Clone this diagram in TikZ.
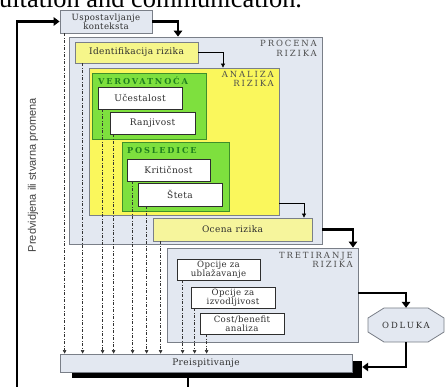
\documentclass[tikz,border=0pt]{standalone}
\usepackage{fontspec}
\usetikzlibrary{arrows.meta,calc}
\newfontfamily\lblf[LetterSpace=4]{DejaVu Serif}
\newfontfamily\ttlf[LetterSpace=22]{DejaVu Serif}
\newfontfamily\topf{Liberation Serif}
\newfontfamily\sidef{Liberation Sans}
\definecolor{bluebg}{HTML}{E3E8F1}
\definecolor{bluebd}{HTML}{7A7F88}
\definecolor{yelA}{HTML}{F6F68A}
\definecolor{yelB}{HTML}{FAF75C}
\definecolor{yelC}{HTML}{F6F59C}
\definecolor{grn}{HTML}{7EE03E}
\definecolor{grnbd}{HTML}{3F8F2A}
\definecolor{grntxt}{HTML}{1E7F1E}
\definecolor{txt}{HTML}{2E2E2E}
\tikzset{
  box/.style={draw, rectangle, inner sep=0pt, align=center, text=txt, font=\lblf\fontsize{9}{10}\selectfont},
  twoline/.style={font=\lblf\fontsize{8.6}{9.2}\selectfont},
  bluebox/.style={box, fill=bluebg, draw=bluebd, line width=0.8pt},
  whitebox/.style={box, fill=white, draw=txt, line width=0.8pt},
  ttl/.style={inner sep=0pt, text=txt!85, font=\ttlf\fontsize{8.5}{9.5}\selectfont, align=right},
  gttl/.style={inner sep=0pt, text=grntxt, font=\ttlf\bfseries\fontsize{8.2}{9}\selectfont},
  bigline/.style={line width=2.2pt, draw=black},
  bigarr/.style={bigline, -{Triangle[length=6pt,width=8.5pt]}},
  thinarr/.style={line width=0.7pt, draw=black, -{Triangle[length=4pt,width=4pt]}},
  da/.style={line width=0.6pt, draw=black!80, dash pattern=on 3pt off 1.5pt on 1pt off 1.5pt, -{Triangle[length=3.5pt,width=3.5pt]}}
}
\begin{document}
\begin{tikzpicture}[x=1pt,y=-1pt]
\useasboundingbox (0,0) rectangle (447,387);
% top cut text
\node[anchor=base west, inner sep=0pt, font=\topf\fontsize{26.4}{30}\selectfont] (toptxt) at (-1,8) {ultation and communication.};
% containers
\node[bluebox, minimum width=253pt, minimum height=207pt] (procena) at (195.5,140.5) {};
\node[ttl, anchor=north east] (procenaT) at (317,40) {PROCENA\\RIZIKA};
\node[box, fill=yelA, draw=bluebd, line width=0.8pt, minimum width=123pt, minimum height=21pt] (ident) at (136.5,52.5) {Identifikacija rizika};
\node[box, fill=yelB, draw=bluebd, line width=0.8pt, minimum width=190pt, minimum height=147pt] (analiza) at (184,141.5) {};
\node[ttl, anchor=north east] (analizaT) at (274,71) {ANALIZA\\RIZIKA};
\node[box, fill=grn, draw=grnbd, line width=0.8pt, minimum width=114pt, minimum height=66pt] (verov) at (149,106) {};
\node[gttl, anchor=north west] (verovT) at (98,77) {VEROVATNOĆA};
\node[whitebox, minimum width=84pt, minimum height=22pt] (uces) at (140,98) {Učestalost};
\node[whitebox, minimum width=85pt, minimum height=22pt] (ranj) at (152.5,123) {Ranjivost};
\node[box, fill=grn, draw=grnbd, line width=0.8pt, minimum width=107pt, minimum height=69pt] (posl) at (175.5,176.5) {};
\node[gttl, anchor=north west] (poslT) at (127,147) {POSLEDICE};
\node[whitebox, minimum width=83pt, minimum height=22pt] (krit) at (168.5,170) {Kritičnost};
\node[whitebox, minimum width=84pt, minimum height=23pt] (steta) at (180,194.5) {Šteta};
\node[box, fill=yelC, draw=bluebd, line width=0.8pt, minimum width=159pt, minimum height=23pt] (ocena) at (232.5,229.5) {Ocena rizika};
\node[bluebox, twoline, minimum width=92pt, minimum height=23pt] (usp) at (106,21.5) {Uspostavljanje\\konteksta};
\node[bluebox, minimum width=191pt, minimum height=94pt] (tret) at (262.5,295) {};
\node[ttl, anchor=north east] (tretT) at (353,252) {TRETIRANJE\\RIZIKA};
\node[whitebox, twoline, minimum width=83pt, minimum height=21pt] (opc1) at (218.5,269.5) {Opcije za\\ublažavanje};
\node[whitebox, twoline, minimum width=84pt, minimum height=21pt] (opc2) at (233,297.5) {Opcije za\\izvodljivost};
\node[whitebox, twoline, minimum width=84pt, minimum height=21pt] (opc3) at (242,323.5) {Cost/benefit\\analiza};
% octagon
\draw[fill=bluebg, draw=bluebd, line width=0.8pt] (384,308) -- (428,308) -- (444,318) -- (444,332) -- (428,342) -- (384,342) -- (368,332) -- (368,318) -- cycle;
\node[inner sep=0pt, minimum width=76pt, minimum height=34pt, text=txt, font=\ttlf\fontsize{8.5}{9.5}\selectfont] (odluka) at (406,325) {ODLUKA};
% review
\node[fill=black, inner sep=0pt, minimum width=290pt, minimum height=17pt] (shadow) at (217,369.5) {};
\node[bluebox, minimum width=292pt, minimum height=18pt] (prei) at (206,363) {Preispitivanje};
% side text
\node[rotate=90, inner sep=0pt, text=black!75, font=\sidef\fontsize{11}{12}\selectfont] (side) at (33,175) {Predvidjena ili stvarna promena};
% thick connectors
\coordinate (loopbot) at (17,387);
\draw[bigarr] (loopbot) |- (usp.west);
\coordinate (botmid) at (188,387);
\draw[bigline] (shadow.south -| botmid) -- (botmid);
\draw[bigarr] (usp.east) -| ([xshift=-17.5pt]procena.north);
\draw[bigarr] (procena.east |- ocena.east) -| ([xshift=90.5pt]tret.north);
\draw[bigarr] ([yshift=2pt]tret.east) -| (odluka.north);
\draw[bigarr] (odluka.south) |- ([yshift=2.5pt]shadow.east);
% thin connectors
\draw[thinarr] (ident.east) -| ([xshift=39pt]analiza.north);
\draw[thinarr] ([yshift=-61.5pt]analiza.east) -| ([xshift=71.5pt]ocena.north);
% dashed connectors
\coordinate (d1) at ([xshift=5pt]usp.south west);
\coordinate (d2) at ([xshift=8pt]ident.south west);
\coordinate (d3) at ([xshift=5pt]uces.south west);
\coordinate (d4) at ([xshift=4pt]ranj.south west);
\coordinate (d5) at ([xshift=6pt]krit.south west);
\coordinate (d6) at ([xshift=9pt]steta.south west);
\coordinate (d7) at ([xshift=8pt]ocena.south west);
\coordinate (d8) at ([xshift=6pt]opc1.south west);
\coordinate (d9) at ([xshift=4pt]opc2.south west);
\coordinate (d10) at ([xshift=7pt]opc3.south west);
\foreach \i in {1,...,10} \draw[da] (d\i) -- (d\i |- prei.north);
\end{tikzpicture}
\end{document}
